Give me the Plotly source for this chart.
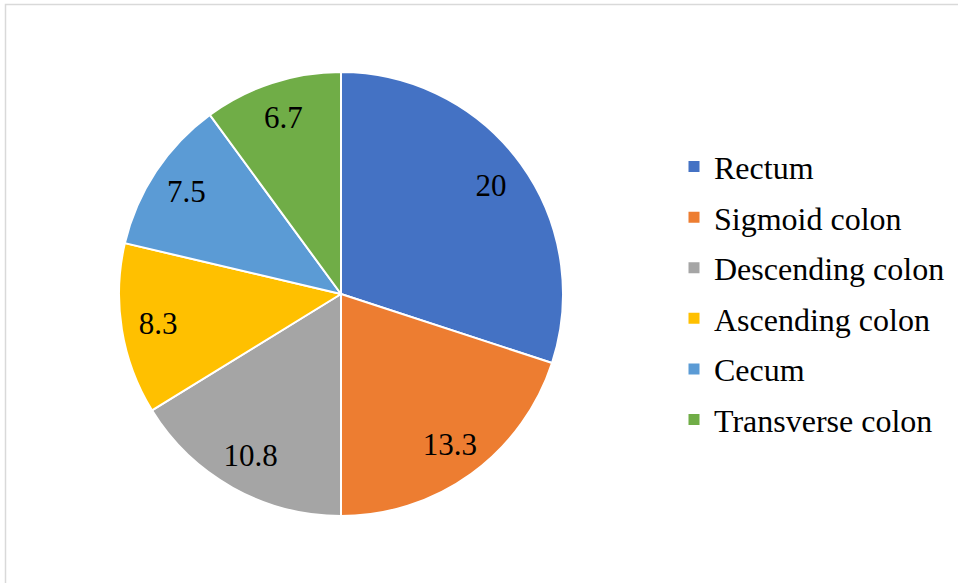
import plotly.graph_objects as go

labels = ["Rectum", "Sigmoid colon", "Descending colon", "Ascending colon", "Cecum", "Transverse colon"]
values = [20, 13.3, 10.8, 8.3, 7.5, 6.7]
colors = ["#4472C4", "#ED7D31", "#A5A5A5", "#FFC000", "#5B9BD5", "#70AD47"]

W, H = 958, 583
FONT = "Liberation Serif"
dom_x = [119 / W, 563 / W]
dom_y = [1 - 517 / H, 1 - 71 / H]

fig = go.Figure()

# Main pie (slices only)
fig.add_trace(go.Pie(
    labels=labels, values=values, sort=False, direction="clockwise", rotation=0,
    marker=dict(colors=colors, line=dict(color="white", width=2)),
    textinfo="none", showlegend=False, hoverinfo="label+value",
    domain=dict(x=dom_x, y=dom_y),
))

# Transparent ring carrying the value labels (places them near the outer part)
fig.add_trace(go.Pie(
    labels=labels, values=values, sort=False, direction="clockwise", rotation=0,
    hole=0.67,
    marker=dict(colors=["rgba(0,0,0,0)"] * len(values), line=dict(width=0)),
    textinfo="value", textposition="inside", insidetextorientation="horizontal",
    textfont=dict(family=FONT, size=31, color="black"),
    showlegend=False, hoverinfo="skip",
    domain=dict(x=dom_x, y=dom_y),
))

# Legend entries
for lab, col in zip(labels, colors):
    fig.add_trace(go.Scatter(
        x=[None], y=[None], mode="markers", name=lab, legendgroup=lab,
        marker=dict(symbol="square", size=11, color=col),
        showlegend=True,
    ))

fig.update_layout(
    width=W, height=H,
    margin=dict(l=0, r=0, t=0, b=0),
    paper_bgcolor="white", plot_bgcolor="white",
    xaxis=dict(visible=False), yaxis=dict(visible=False),
    legend=dict(
        x=674 / W, xanchor="left", y=0.497, yanchor="middle",
        font=dict(family=FONT, size=32, color="black"),
        tracegroupgap=6, bgcolor="rgba(0,0,0,0)",
    ),
    shapes=[dict(type="rect", xref="paper", yref="paper",
                 x0=5.5 / W, x1=1.05, y0=-0.05, y1=1 - 4.5 / H,
                 line=dict(color="#D9D9D9", width=1.5), layer="below")],
)

fig.write_html("out.html", config={"displayModeBar": False},
               post_script="document.body.style.margin='0';")
